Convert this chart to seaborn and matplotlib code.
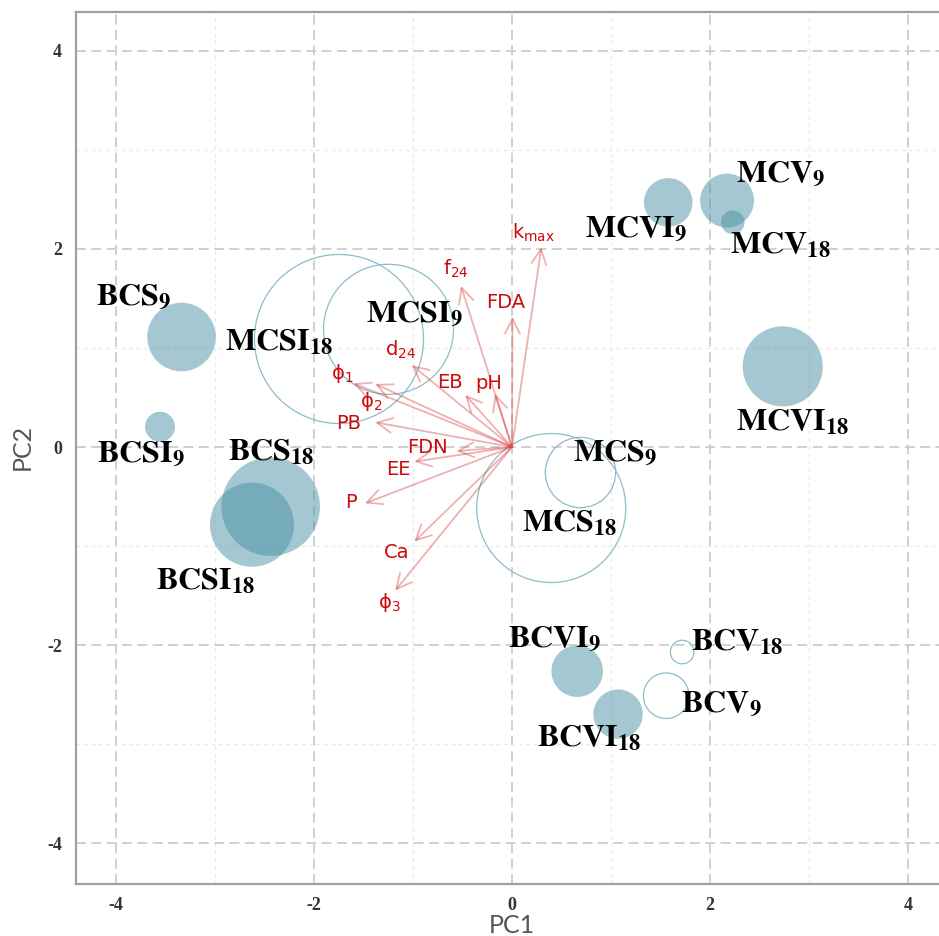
import numpy as np
import pandas as pd
import matplotlib
matplotlib.use("Agg")
import matplotlib.pyplot as plt
import seaborn as sns

# ---------------- data ----------------
samples = ['BCS9', 'BCSI9', 'BCS18', 'BCSI18', 'MCSI18', 'MCSI9', 'MCS9', 'MCS18',
           'MCVI9', 'MCV9', 'MCV18', 'MCVI18', 'BCVI9', 'BCVI18', 'BCV9', 'BCV18']
label_base = ['BCS', 'BCSI', 'BCS', 'BCSI', 'MCSI', 'MCSI', 'MCS', 'MCS',
              'MCVI', 'MCV', 'MCV', 'MCVI', 'BCVI', 'BCVI', 'BCV', 'BCV']
label_sub = ['9', '9', '18', '18', '18', '9', '9', '18',
             '9', '9', '18', '18', '9', '18', '9', '18']
pc1 = [-3.335, -3.552, -2.435, -2.624, -1.746, -1.246, 0.691, 0.396,
       1.577, 2.170, 2.228, 2.732, 0.658, 1.070, 1.556, 1.717]
pc2 = [1.110, 0.205, -0.602, -0.784, 1.090, 1.188, -0.257, -0.616,
       2.469, 2.487, 2.268, 0.814, -2.262, -2.696, -2.510, -2.069]
bubble_radius = [0.346, 0.151, 0.497, 0.424, 0.853, 0.656, 0.355, 0.752,
                 0.245, 0.272, 0.119, 0.404, 0.260, 0.249, 0.230, 0.119]
filled = [True, True, True, True, False, False, False, False,
          True, True, True, True, True, True, False, False]

loading_vars = ['kmax', 'f24', 'FDA', 'd24', 'EB', 'pH', 'phi1', 'phi2',
                'PB', 'FDN', 'EE', 'P', 'Ca', 'phi3']
loading_text = [r'$\mathrm{k}_{\mathrm{max}}$', r'$\mathrm{f}_{\mathrm{24}}$', 'FDA',
                r'$\mathrm{d}_{\mathrm{24}}$', 'EB', 'pH',
                r'$\mathrm{\phi}_{\mathrm{1}}$', r'$\mathrm{\phi}_{\mathrm{2}}$',
                'PB', 'FDN', 'EE', 'P', 'Ca', r'$\mathrm{\phi}_{\mathrm{3}}$']
loading_pc1 = [0.296, -0.515, 0.005, -1.012, -0.471, -0.172, -1.600, -1.380,
               -1.380, -0.558, -0.986, -1.483, -0.986, -1.180]
loading_pc2 = [2.015, 1.625, 1.315, 0.827, 0.525, 0.535, 0.643, 0.636,
               0.249, -0.040, -0.148, -0.568, -0.955, -1.450]

tick_values = [-4, -2, 0, 2, 4]
tick_labels = ['-4', '-2', '0', '2', '4']
minor_tick_values = [-3, -1, 1, 3]

# ---------------- layout (label placements) ----------------
sample_label_pos = {
    'BCS9': (-3.815, 1.534), 'MCSI18': (-2.351, 1.060), 'BCSI9': (-3.749, -0.050),
    'BCS18': (-2.427, -0.050), 'BCSI18': (-3.098, -1.352), 'MCSI9': (-0.989, 1.362),
    'MCS9': (1.039, -0.040), 'MCS18': (0.585, -0.767), 'MCVI9': (1.251, 2.220),
    'MCV9': (2.714, 2.775), 'MCV18': (2.704, 2.038), 'MCVI18': (2.836, 0.252),
    'BCVI9': (0.434, -1.917), 'BCV18': (2.270, -1.968), 'BCV9': (2.109, -2.573),
    'BCVI18': (0.777, -2.937),
}
loading_label_pos = {
    'kmax': (0.212, 2.159), 'f24': (-0.565, 1.796), 'FDA': (-0.061, 1.463),
    'd24': (-1.120, 0.979), 'phi1': (-1.715, 0.737), 'EB': (-0.626, 0.656),
    'pH': (-0.232, 0.636), 'phi2': (-1.423, 0.464), 'PB': (-1.645, 0.242),
    'FDN': (-0.858, 0.0), 'EE': (-1.150, -0.222), 'P': (-1.625, -0.565),
    'Ca': (-1.160, -1.060), 'phi3': (-1.241, -1.574),
}

df = pd.DataFrame({'sample': samples, 'PC1': pc1, 'PC2': pc2,
                   'radius': bubble_radius, 'filled': filled})

# ---------------- style ----------------
sns.set_theme(style='white')
plt.rcParams['font.family'] = ['DejaVu Sans']

W, H, DPI = 939, 936, 100
fig = plt.figure(figsize=(W / DPI, H / DPI), dpi=DPI)
ax = fig.add_axes([76 / W, 1 - 884 / H, 1 - 76 / W, 872 / H])
ax.set_xlim(-4.40, 4.309)
ax.set_ylim(-4.41, 4.39)

# grid
ax.set_xticks(tick_values)
ax.set_yticks(tick_values)
ax.set_xticks(minor_tick_values, minor=True)
ax.set_yticks(minor_tick_values, minor=True)
ax.grid(which='major', color='#cdcdcd', linestyle=(0, (5.5, 3)), linewidth=1.3)
ax.grid(which='minor', color='#e9e9e9', linestyle=(0, (3, 3)), linewidth=0.9)
ax.set_axisbelow(True)

for side in ['left', 'bottom', 'top']:
    ax.spines[side].set_color('#a0a0a0')
    ax.spines[side].set_linewidth(1.6)
ax.spines['right'].set_visible(False)

# bubble sizes computed from the axis scale
ppu = ax.transData.transform((1, 0))[0] - ax.transData.transform((0, 0))[0]


def marker_area(r):
    r_pt = np.asarray(r) * ppu * 72.0 / DPI
    return (2 * r_pt) ** 2


d_fill = df[df['filled']]
d_open = df[~df['filled']]

sns.scatterplot(data=d_fill, x='PC1', y='PC2', s=marker_area(d_fill['radius']),
                color='#4a90a4', alpha=0.5, linewidth=0, ax=ax, legend=False, zorder=2)
sns.scatterplot(data=d_open, x='PC1', y='PC2', s=marker_area(d_open['radius']),
                color='#8dbccb', linewidth=0.9, ax=ax, legend=False, zorder=2)
coll = ax.collections[-1]
coll.set_facecolor('none')
coll.set_edgecolor('#8dbccb')
coll.set_linewidth(0.9)

# loading arrows
for var, lx, ly in zip(loading_vars, loading_pc1, loading_pc2):
    ax.annotate('', xy=(lx, ly), xytext=(0, 0), xycoords='data', textcoords='data',
                arrowprops=dict(arrowstyle='->,head_length=0.9,head_width=0.45',
                                color='#d64545', alpha=0.42, lw=1.3,
                                shrinkA=0, shrinkB=0), zorder=3)

for var, txt in zip(loading_vars, loading_text):
    tx, ty = loading_label_pos[var]
    ax.text(tx, ty, txt, color='#cc0a0a', fontsize=14, ha='center', va='center',
            family='DejaVu Sans', math_fontfamily='dejavusans', zorder=4)

# sample labels
for s, b, sub in zip(samples, label_base, label_sub):
    tx, ty = sample_label_pos[s]
    ax.text(tx, ty, r'$\mathbf{%s}_{\mathbf{%s}}$' % (b, sub), fontsize=23,
            math_fontfamily='stix', color='black', ha='center', va='center', zorder=5)

# ticks
ax.tick_params(axis='both', which='major', length=3, width=1, color='#a0a0a0',
               labelcolor='#333333', labelsize=13)
ax.tick_params(axis='x', which='major', pad=6)
ax.tick_params(axis='y', which='major', pad=7)
ax.tick_params(axis='both', which='minor', length=0)
ax.set_xticklabels(tick_labels, family='Liberation Serif', fontweight='bold')
ax.set_yticklabels(tick_labels, family='Liberation Serif', fontweight='bold')

ax.set_xlabel('PC1', fontsize=18, family=['Lato', 'DejaVu Sans'], color='#555555',
              va='center')
ax.set_ylabel('PC2', fontsize=18, family=['Lato', 'DejaVu Sans'], color='#555555',
              va='center')
ax.xaxis.set_label_coords(0.505, -0.048)
ax.yaxis.set_label_coords(-0.0625, 0.501)

fig.savefig('out.png', dpi=DPI)
